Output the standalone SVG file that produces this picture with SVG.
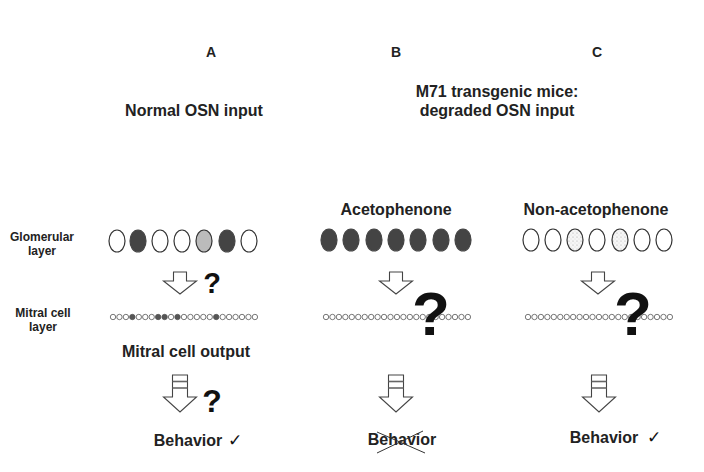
<svg xmlns="http://www.w3.org/2000/svg" xmlns:xlink="http://www.w3.org/1999/xlink" width="704" height="472" viewBox="0 0 704 472">
<style>
text{font-family:"Liberation Sans",Arial,sans-serif;font-weight:bold;fill:#222;}
.hdr{font-size:14px;text-anchor:middle;}
.t16{font-size:16px;text-anchor:middle;}
.lbl{font-size:12px;text-anchor:middle;}
.q{fill:#111;text-anchor:middle;}
.glo{stroke:#333;stroke-width:1.2;fill:#fff;}
.dark{fill:#444;stroke:#444;}
.grey{fill:#bbb;}
.stip{fill:url(#stipple);}
.mc{fill:#fff;stroke:#555;stroke-width:0.8;}
.mcf{fill:#555;stroke:#555;stroke-width:0.8;}
.arr{fill:#fff;stroke:#444;stroke-width:1.1;stroke-linejoin:miter;}
.bar{stroke:#666;stroke-width:1.6;}
.chk{font-family:"DejaVu Sans",sans-serif;font-weight:normal;font-size:17px;fill:#111;}
.x{stroke:#333;stroke-width:1;}
</style>
<defs>
<pattern id="stipple" width="4" height="4" patternUnits="userSpaceOnUse">
<rect width="4" height="4" fill="#f6f6f6"/>
<circle cx="1" cy="1" r="0.6" fill="#aaa"/>
<circle cx="3" cy="3" r="0.45" fill="#c4c4c4"/>
</pattern>
<circle id="m" r="2.7"/>
</defs>

<g id="headers">
<text class="hdr" x="211" y="57">A</text>
<text class="hdr" x="396" y="57">B</text>
<text class="hdr" x="597" y="57">C</text>
<text class="t16" x="194" y="116">Normal OSN input</text>
<text class="t16" x="497" y="97">M71 transgenic mice:</text>
<text class="t16" x="497" y="116">degraded OSN input</text>
<text class="t16" x="396" y="215">Acetophenone</text>
<text class="t16" x="596" y="215">Non-acetophenone</text>
</g>

<g id="row-labels">
<text class="lbl" x="42" y="241">Glomerular</text>
<text class="lbl" x="42" y="255">layer</text>
<text class="lbl" x="43" y="317">Mitral cell</text>
<text class="lbl" x="43" y="331">layer</text>
</g>

<g id="glomeruli-A">
<ellipse class="glo" cx="117" cy="241" rx="8" ry="11"/>
<ellipse class="glo dark" cx="138" cy="241" rx="8" ry="11"/>
<ellipse class="glo" cx="160" cy="241" rx="8" ry="11"/>
<ellipse class="glo" cx="182" cy="241" rx="8" ry="11"/>
<ellipse class="glo grey" cx="204" cy="241" rx="8" ry="11"/>
<ellipse class="glo dark" cx="227" cy="241" rx="8" ry="11"/>
<ellipse class="glo" cx="249" cy="241" rx="8" ry="11"/>
</g>
<g id="glomeruli-B">
<ellipse class="glo dark" cx="329" cy="240" rx="8" ry="11"/>
<ellipse class="glo dark" cx="351" cy="240" rx="8" ry="11"/>
<ellipse class="glo dark" cx="374" cy="240" rx="8" ry="11"/>
<ellipse class="glo dark" cx="396" cy="240" rx="8" ry="11"/>
<ellipse class="glo dark" cx="418" cy="240" rx="8" ry="11"/>
<ellipse class="glo dark" cx="441" cy="240" rx="8" ry="11"/>
<ellipse class="glo dark" cx="463" cy="240" rx="8" ry="11"/>
</g>
<g id="glomeruli-C">
<ellipse class="glo" cx="531" cy="240" rx="8" ry="11"/>
<ellipse class="glo" cx="553" cy="240" rx="8" ry="11"/>
<ellipse class="glo stip" cx="575" cy="240" rx="8" ry="11"/>
<ellipse class="glo" cx="597" cy="240" rx="8" ry="11"/>
<ellipse class="glo stip" cx="620" cy="240" rx="8" ry="11"/>
<ellipse class="glo" cx="642" cy="240" rx="8" ry="11"/>
<ellipse class="glo" cx="664" cy="240" rx="8" ry="11"/>
</g>

<g id="mitral-A" transform="translate(113,317)">
<use href="#m" class="mc" x="0"/><use href="#m" class="mc" x="6.45"/><use href="#m" class="mc" x="12.9"/><use href="#m" class="mcf" x="19.35"/>
<use href="#m" class="mc" x="25.8"/><use href="#m" class="mc" x="32.25"/><use href="#m" class="mc" x="38.7"/><use href="#m" class="mcf" x="45.15"/>
<use href="#m" class="mcf" x="51.6"/><use href="#m" class="mc" x="58.05"/><use href="#m" class="mcf" x="64.5"/><use href="#m" class="mc" x="70.95"/>
<use href="#m" class="mc" x="77.4"/><use href="#m" class="mc" x="83.85"/><use href="#m" class="mc" x="90.3"/><use href="#m" class="mc" x="96.75"/>
<use href="#m" class="mcf" x="103.2"/><use href="#m" class="mc" x="109.65"/><use href="#m" class="mc" x="116.1"/><use href="#m" class="mc" x="122.55"/>
<use href="#m" class="mc" x="129"/><use href="#m" class="mc" x="135.45"/><use href="#m" class="mc" x="141.9"/>
</g>
<g id="mitral-B" transform="translate(326,317)">
<use href="#m" class="mc" x="0"/><use href="#m" class="mc" x="6.45"/><use href="#m" class="mc" x="12.9"/><use href="#m" class="mc" x="19.35"/>
<use href="#m" class="mc" x="25.8"/><use href="#m" class="mc" x="32.25"/><use href="#m" class="mc" x="38.7"/><use href="#m" class="mc" x="45.15"/>
<use href="#m" class="mc" x="51.6"/><use href="#m" class="mc" x="58.05"/><use href="#m" class="mc" x="64.5"/><use href="#m" class="mc" x="70.95"/>
<use href="#m" class="mc" x="77.4"/><use href="#m" class="mc" x="83.85"/><use href="#m" class="mc" x="90.3"/><use href="#m" class="mc" x="96.75"/>
<use href="#m" class="mc" x="103.2"/><use href="#m" class="mc" x="109.65"/><use href="#m" class="mc" x="116.1"/><use href="#m" class="mc" x="122.55"/>
<use href="#m" class="mc" x="129"/><use href="#m" class="mc" x="135.45"/><use href="#m" class="mc" x="141.9"/>
</g>
<g id="mitral-C" transform="translate(528,317)">
<use href="#m" class="mc" x="0"/><use href="#m" class="mc" x="6.45"/><use href="#m" class="mc" x="12.9"/><use href="#m" class="mc" x="19.35"/>
<use href="#m" class="mc" x="25.8"/><use href="#m" class="mc" x="32.25"/><use href="#m" class="mc" x="38.7"/><use href="#m" class="mc" x="45.15"/>
<use href="#m" class="mc" x="51.6"/><use href="#m" class="mc" x="58.05"/><use href="#m" class="mc" x="64.5"/><use href="#m" class="mc" x="70.95"/>
<use href="#m" class="mc" x="77.4"/><use href="#m" class="mc" x="83.85"/><use href="#m" class="mc" x="90.3"/><use href="#m" class="mc" x="96.75"/>
<use href="#m" class="mc" x="103.2"/><use href="#m" class="mc" x="109.65"/><use href="#m" class="mc" x="116.1"/><use href="#m" class="mc" x="122.55"/>
<use href="#m" class="mc" x="129"/><use href="#m" class="mc" x="135.45"/><use href="#m" class="mc" x="141.9"/>
</g>

<g id="connectors">
<path class="arr" d="M173.5,272H186.5V281H196.5L180,294L163.5,281H173.5Z"/>
<path class="arr" d="M389.5,272H402.5V281H412.5L396,294L379.5,281H389.5Z"/>
<path class="arr" d="M591.5,272H604.5V281H614.5L598,294L581.5,281H591.5Z"/>
<g id="out-A">
<path class="arr" d="M172.5,375H187.5V397H196.5L180,412L163.5,397H172.5Z"/>
<line class="bar" x1="172.5" y1="381.5" x2="187.5" y2="381.5"/>
<line class="bar" x1="172.5" y1="388" x2="187.5" y2="388"/>
</g>
<g id="out-B">
<path class="arr" d="M388.5,375H403.5V397H412.5L396,412L379.5,397H388.5Z"/>
<line class="bar" x1="388.5" y1="381.5" x2="403.5" y2="381.5"/>
<line class="bar" x1="388.5" y1="388" x2="403.5" y2="388"/>
</g>
<g id="out-C">
<path class="arr" d="M591.5,375H606.5V397H615.5L599,412L582.5,397H591.5Z"/>
<line class="bar" x1="591.5" y1="381.5" x2="606.5" y2="381.5"/>
<line class="bar" x1="591.5" y1="388" x2="606.5" y2="388"/>
</g>
</g>

<g id="question-marks">
<text class="q" x="212" y="293" font-size="29">?</text>
<text class="q" x="212" y="412" font-size="32">?</text>
<text class="q" x="431" y="335" font-size="62">?</text>
<text class="q" x="633" y="335" font-size="62">?</text>
</g>

<g id="output-labels">
<text class="t16" x="186" y="357">Mitral cell output</text>
<text class="t16" x="188" y="446">Behavior</text>
<text class="chk" x="228" y="446">✓</text>
<text class="t16" x="402" y="445">Behavior</text>
<line class="x" x1="377" y1="432" x2="425" y2="453"/>
<line class="x" x1="377" y1="453" x2="423" y2="431"/>
<text class="t16" x="604" y="443">Behavior</text>
<text class="chk" x="647" y="443">✓</text>
</g>
</svg>
